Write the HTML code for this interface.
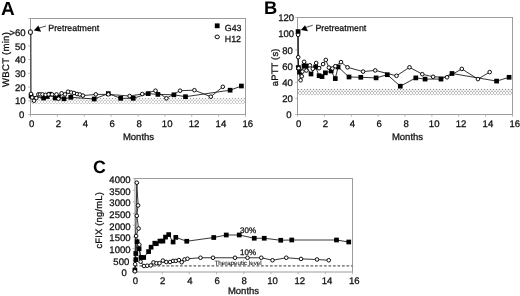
<!DOCTYPE html>
<html><head><meta charset="utf-8"><title>Figure</title>
<style>
html,body{margin:0;padding:0;background:#fff;}
body{width:520px;height:296px;overflow:hidden;}
svg{display:block;}
text{font-family:'Liberation Sans', sans-serif;fill:#111;text-rendering:geometricPrecision;stroke:#111;stroke-width:0.28px;}
.t{font-size:9.55px;}
.l{font-size:9.5px;}
.a{font-size:8.8px;}
.g{font-size:8.85px;}
.s{font-size:6.2px;stroke-width:0.08px;}
.q{font-size:8px;}
.p{font-size:18.3px;font-weight:bold;fill:#000;text-anchor:middle;stroke:none;}
</style></head><body>
<svg width="520" height="296" viewBox="0 0 520 296">
<defs>
<pattern id="hatch" width="3" height="7" patternUnits="userSpaceOnUse">
<rect width="3" height="7" fill="#fff"/>
<circle cx="1.5" cy="0.5" r="0.66" fill="#888888"/>
<circle cx="0" cy="2.25" r="0.66" fill="#888888"/><circle cx="3" cy="2.25" r="0.66" fill="#888888"/>
<circle cx="1.5" cy="3.9" r="0.66" fill="#888888"/>
<circle cx="0" cy="5.6" r="0.66" fill="#888888"/><circle cx="3" cy="5.6" r="0.66" fill="#888888"/>
</pattern>
<pattern id="hatchA" width="3" height="7" patternUnits="userSpaceOnUse">
<rect width="3" height="7" fill="#fff"/>
<circle cx="1.5" cy="0.5" r="0.64" fill="#9c9c9c"/>
<circle cx="0" cy="2.25" r="0.64" fill="#9c9c9c"/><circle cx="3" cy="2.25" r="0.64" fill="#9c9c9c"/>
<circle cx="1.5" cy="3.9" r="0.64" fill="#9c9c9c"/>
<circle cx="0" cy="5.6" r="0.64" fill="#9c9c9c"/><circle cx="3" cy="5.6" r="0.64" fill="#9c9c9c"/>
</pattern>
<filter id="soft" x="0" y="0" width="520" height="296" filterUnits="userSpaceOnUse"><feGaussianBlur stdDeviation="0.35"/></filter>
</defs>
<rect width="520" height="296" fill="#fff"/>
<g transform="translate(30,98)"><rect x="0" y="0" width="215.0" height="6.400000000000006" fill="url(#hatchA)"/></g>
<g transform="translate(297,89)"><rect x="0" y="0" width="215.0" height="6.599999999999994" fill="url(#hatch)"/></g>
<g filter="url(#soft)">
<rect x="30.5" y="18.5" width="215.0" height="96.0" fill="none" stroke="#9c9c9c" stroke-width="1"/>
<line x1="28.2" x2="30.5" y1="114.50" y2="114.50" stroke="#a6a6a6" stroke-width="0.8"/>
<text x="24.20" y="118.10" text-anchor="end" class="t">0</text>
<line x1="28.2" x2="30.5" y1="100.79" y2="100.79" stroke="#a6a6a6" stroke-width="0.8"/>
<text x="25.50" y="104.39" text-anchor="end" class="t">10</text>
<line x1="28.2" x2="30.5" y1="87.07" y2="87.07" stroke="#a6a6a6" stroke-width="0.8"/>
<text x="25.50" y="90.67" text-anchor="end" class="t">20</text>
<line x1="28.2" x2="30.5" y1="73.36" y2="73.36" stroke="#a6a6a6" stroke-width="0.8"/>
<text x="25.50" y="76.96" text-anchor="end" class="t">30</text>
<line x1="28.2" x2="30.5" y1="59.64" y2="59.64" stroke="#a6a6a6" stroke-width="0.8"/>
<text x="25.50" y="63.24" text-anchor="end" class="t">40</text>
<line x1="28.2" x2="30.5" y1="45.93" y2="45.93" stroke="#a6a6a6" stroke-width="0.8"/>
<text x="25.50" y="49.53" text-anchor="end" class="t">50</text>
<line x1="28.2" x2="30.5" y1="32.21" y2="32.21" stroke="#a6a6a6" stroke-width="0.8"/>
<text x="25.63" y="35.81" text-anchor="end" class="t">&gt;60</text>
<line x1="28.2" x2="30.5" y1="18.50" y2="18.50" stroke="#a6a6a6" stroke-width="0.8"/>
<line x1="30.50" x2="30.50" y1="114.5" y2="116.8" stroke="#a6a6a6" stroke-width="0.8"/>
<text x="31.60" y="126.90" text-anchor="middle" class="t">0</text>
<line x1="57.38" x2="57.38" y1="114.5" y2="116.8" stroke="#a6a6a6" stroke-width="0.8"/>
<text x="58.48" y="126.90" text-anchor="middle" class="t">2</text>
<line x1="84.25" x2="84.25" y1="114.5" y2="116.8" stroke="#a6a6a6" stroke-width="0.8"/>
<text x="85.35" y="126.90" text-anchor="middle" class="t">4</text>
<line x1="111.12" x2="111.12" y1="114.5" y2="116.8" stroke="#a6a6a6" stroke-width="0.8"/>
<text x="112.22" y="126.90" text-anchor="middle" class="t">6</text>
<line x1="138.00" x2="138.00" y1="114.5" y2="116.8" stroke="#a6a6a6" stroke-width="0.8"/>
<text x="139.10" y="126.90" text-anchor="middle" class="t">8</text>
<line x1="164.88" x2="164.88" y1="114.5" y2="116.8" stroke="#a6a6a6" stroke-width="0.8"/>
<text x="167.17" y="126.90" text-anchor="middle" class="t">10</text>
<line x1="191.75" x2="191.75" y1="114.5" y2="116.8" stroke="#a6a6a6" stroke-width="0.8"/>
<text x="194.05" y="126.90" text-anchor="middle" class="t">12</text>
<line x1="218.62" x2="218.62" y1="114.5" y2="116.8" stroke="#a6a6a6" stroke-width="0.8"/>
<text x="220.92" y="126.90" text-anchor="middle" class="t">14</text>
<line x1="245.50" x2="245.50" y1="114.5" y2="116.8" stroke="#a6a6a6" stroke-width="0.8"/>
<text x="247.80" y="126.90" text-anchor="middle" class="t">16</text>
<text x="7.8" y="14.8" class="p" style="font-size:19px">A</text>
<text transform="translate(8.6,59.4) rotate(-90)" text-anchor="middle" class="l" style="font-size:9.6px;letter-spacing:0.25px">WBCT (min)</text>
<text x="138.5" y="140" text-anchor="middle" class="l">Months</text>
<text x="48.3" y="31.2" class="a">Pretreatment</text>
<path d="M46 26 L39 28.1" stroke="#222" stroke-width="0.8" fill="none"/>
<path d="M33.9 30.6 L38.3 25.6 L41.1 31.7 Z" fill="#000"/>
<rect x="214.80" y="23.40" width="4.8" height="4.8" fill="#000"/>
<ellipse cx="217.2" cy="36.9" rx="2.15" ry="1.85" fill="#fff" stroke="#000" stroke-width="0.95"/>
<text x="224.8" y="30.9" class="g">G43</text>
<text x="224.8" y="41.5" class="g">H12</text>
<polyline fill="none" stroke="#111" stroke-width="0.85" stroke-linejoin="round" points="31.10,96.00 43.60,98.00 47.20,96.50 49.80,94.20 55.20,98.00 58.30,96.80 64.00,98.80 70.80,97.30 94.20,99.00 108.30,93.60 120.70,98.30 133.20,98.30 148.20,93.60 157.90,94.40 173.90,94.80 185.50,96.70 230.10,90.20 241.40,86.00"/>
<polyline fill="none" stroke="#111" stroke-width="0.85" stroke-linejoin="round" points="30.90,32.40 31.00,93.90 32.10,97.50 34.00,100.70 36.30,98.00 38.30,94.40 40.20,94.40 42.50,94.40 45.60,94.80 48.70,94.40 52.10,94.40 56.50,94.40 58.50,98.70 61.60,93.30 65.00,94.40 68.10,91.70 71.20,92.50 74.00,93.00 77.10,94.00 79.80,94.50 82.90,95.60 95.80,94.40 108.30,94.40 129.60,96.00 142.30,94.00 155.50,90.70 166.40,98.30 180.10,90.70 194.40,90.20 210.80,96.70 222.80,86.80"/>
<rect x="28.75" y="93.65" width="4.7" height="4.7" fill="#000"/>
<rect x="41.25" y="95.65" width="4.7" height="4.7" fill="#000"/>
<rect x="44.85" y="94.15" width="4.7" height="4.7" fill="#000"/>
<rect x="47.45" y="91.85" width="4.7" height="4.7" fill="#000"/>
<rect x="52.85" y="95.65" width="4.7" height="4.7" fill="#000"/>
<rect x="55.95" y="94.45" width="4.7" height="4.7" fill="#000"/>
<rect x="61.65" y="96.45" width="4.7" height="4.7" fill="#000"/>
<rect x="68.45" y="94.95" width="4.7" height="4.7" fill="#000"/>
<rect x="91.85" y="96.65" width="4.7" height="4.7" fill="#000"/>
<rect x="105.95" y="91.25" width="4.7" height="4.7" fill="#000"/>
<rect x="118.35" y="95.95" width="4.7" height="4.7" fill="#000"/>
<rect x="130.85" y="95.95" width="4.7" height="4.7" fill="#000"/>
<rect x="145.85" y="91.25" width="4.7" height="4.7" fill="#000"/>
<rect x="155.55" y="92.05" width="4.7" height="4.7" fill="#000"/>
<rect x="171.55" y="92.45" width="4.7" height="4.7" fill="#000"/>
<rect x="183.15" y="94.35" width="4.7" height="4.7" fill="#000"/>
<rect x="227.75" y="87.85" width="4.7" height="4.7" fill="#000"/>
<rect x="239.05" y="83.65" width="4.7" height="4.7" fill="#000"/>
<circle cx="31.00" cy="93.90" r="1.8" fill="#fff" stroke="#000" stroke-width="0.95"/>
<circle cx="32.10" cy="97.50" r="1.8" fill="#fff" stroke="#000" stroke-width="0.95"/>
<circle cx="34.00" cy="100.70" r="1.8" fill="#fff" stroke="#000" stroke-width="0.95"/>
<circle cx="36.30" cy="98.00" r="1.8" fill="#fff" stroke="#000" stroke-width="0.95"/>
<circle cx="38.30" cy="94.40" r="1.8" fill="#fff" stroke="#000" stroke-width="0.95"/>
<circle cx="40.20" cy="94.40" r="1.8" fill="#fff" stroke="#000" stroke-width="0.95"/>
<circle cx="42.50" cy="94.40" r="1.8" fill="#fff" stroke="#000" stroke-width="0.95"/>
<circle cx="45.60" cy="94.80" r="1.8" fill="#fff" stroke="#000" stroke-width="0.95"/>
<circle cx="48.70" cy="94.40" r="1.8" fill="#fff" stroke="#000" stroke-width="0.95"/>
<circle cx="52.10" cy="94.40" r="1.8" fill="#fff" stroke="#000" stroke-width="0.95"/>
<circle cx="56.50" cy="94.40" r="1.8" fill="#fff" stroke="#000" stroke-width="0.95"/>
<circle cx="58.50" cy="98.70" r="1.8" fill="#fff" stroke="#000" stroke-width="0.95"/>
<circle cx="61.60" cy="93.30" r="1.8" fill="#fff" stroke="#000" stroke-width="0.95"/>
<circle cx="65.00" cy="94.40" r="1.8" fill="#fff" stroke="#000" stroke-width="0.95"/>
<circle cx="68.10" cy="91.70" r="1.8" fill="#fff" stroke="#000" stroke-width="0.95"/>
<circle cx="71.20" cy="92.50" r="1.8" fill="#fff" stroke="#000" stroke-width="0.95"/>
<circle cx="74.00" cy="93.00" r="1.8" fill="#fff" stroke="#000" stroke-width="0.95"/>
<circle cx="77.10" cy="94.00" r="1.8" fill="#fff" stroke="#000" stroke-width="0.95"/>
<circle cx="79.80" cy="94.50" r="1.8" fill="#fff" stroke="#000" stroke-width="0.95"/>
<circle cx="82.90" cy="95.60" r="1.8" fill="#fff" stroke="#000" stroke-width="0.95"/>
<circle cx="95.80" cy="94.40" r="1.8" fill="#fff" stroke="#000" stroke-width="0.95"/>
<circle cx="108.30" cy="94.40" r="1.8" fill="#fff" stroke="#000" stroke-width="0.95"/>
<circle cx="129.60" cy="96.00" r="1.8" fill="#fff" stroke="#000" stroke-width="0.95"/>
<circle cx="142.30" cy="94.00" r="1.8" fill="#fff" stroke="#000" stroke-width="0.95"/>
<circle cx="155.50" cy="90.70" r="1.8" fill="#fff" stroke="#000" stroke-width="0.95"/>
<circle cx="166.40" cy="98.30" r="1.8" fill="#fff" stroke="#000" stroke-width="0.95"/>
<circle cx="180.10" cy="90.70" r="1.8" fill="#fff" stroke="#000" stroke-width="0.95"/>
<circle cx="194.40" cy="90.20" r="1.8" fill="#fff" stroke="#000" stroke-width="0.95"/>
<circle cx="210.80" cy="96.70" r="1.8" fill="#fff" stroke="#000" stroke-width="0.95"/>
<circle cx="222.80" cy="86.80" r="1.8" fill="#fff" stroke="#000" stroke-width="0.95"/>
<rect x="28.6" y="30.0" width="3.7" height="4.3" rx="1.1" fill="#fff" stroke="#000" stroke-width="1"/>
<rect x="297.5" y="17.5" width="215.0" height="97.0" fill="none" stroke="#9c9c9c" stroke-width="1"/>
<line x1="295.2" x2="297.5" y1="114.50" y2="114.50" stroke="#a6a6a6" stroke-width="0.8"/>
<text x="291.50" y="118.30" text-anchor="end" class="t">0</text>
<line x1="295.2" x2="297.5" y1="98.33" y2="98.33" stroke="#a6a6a6" stroke-width="0.8"/>
<text x="292.80" y="102.13" text-anchor="end" class="t">20</text>
<line x1="295.2" x2="297.5" y1="82.17" y2="82.17" stroke="#a6a6a6" stroke-width="0.8"/>
<text x="292.80" y="85.97" text-anchor="end" class="t">40</text>
<line x1="295.2" x2="297.5" y1="66.00" y2="66.00" stroke="#a6a6a6" stroke-width="0.8"/>
<text x="292.80" y="69.80" text-anchor="end" class="t">60</text>
<line x1="295.2" x2="297.5" y1="49.83" y2="49.83" stroke="#a6a6a6" stroke-width="0.8"/>
<text x="292.80" y="53.63" text-anchor="end" class="t">80</text>
<line x1="295.2" x2="297.5" y1="33.67" y2="33.67" stroke="#a6a6a6" stroke-width="0.8"/>
<text x="294.10" y="37.47" text-anchor="end" class="t">100</text>
<line x1="295.2" x2="297.5" y1="17.50" y2="17.50" stroke="#a6a6a6" stroke-width="0.8"/>
<text x="294.10" y="21.30" text-anchor="end" class="t">120</text>
<line x1="297.50" x2="297.50" y1="114.5" y2="116.8" stroke="#a6a6a6" stroke-width="0.8"/>
<text x="298.60" y="126.90" text-anchor="middle" class="t">0</text>
<line x1="324.38" x2="324.38" y1="114.5" y2="116.8" stroke="#a6a6a6" stroke-width="0.8"/>
<text x="325.48" y="126.90" text-anchor="middle" class="t">2</text>
<line x1="351.25" x2="351.25" y1="114.5" y2="116.8" stroke="#a6a6a6" stroke-width="0.8"/>
<text x="352.35" y="126.90" text-anchor="middle" class="t">4</text>
<line x1="378.12" x2="378.12" y1="114.5" y2="116.8" stroke="#a6a6a6" stroke-width="0.8"/>
<text x="379.23" y="126.90" text-anchor="middle" class="t">6</text>
<line x1="405.00" x2="405.00" y1="114.5" y2="116.8" stroke="#a6a6a6" stroke-width="0.8"/>
<text x="406.10" y="126.90" text-anchor="middle" class="t">8</text>
<line x1="431.88" x2="431.88" y1="114.5" y2="116.8" stroke="#a6a6a6" stroke-width="0.8"/>
<text x="434.18" y="126.90" text-anchor="middle" class="t">10</text>
<line x1="458.75" x2="458.75" y1="114.5" y2="116.8" stroke="#a6a6a6" stroke-width="0.8"/>
<text x="461.05" y="126.90" text-anchor="middle" class="t">12</text>
<line x1="485.62" x2="485.62" y1="114.5" y2="116.8" stroke="#a6a6a6" stroke-width="0.8"/>
<text x="487.93" y="126.90" text-anchor="middle" class="t">14</text>
<line x1="512.50" x2="512.50" y1="114.5" y2="116.8" stroke="#a6a6a6" stroke-width="0.8"/>
<text x="514.80" y="126.90" text-anchor="middle" class="t">16</text>
<text x="270.6" y="14.4" class="p">B</text>
<text transform="translate(277.5,67.3) rotate(-90)" text-anchor="middle" class="l" style="font-size:9.4px;letter-spacing:0.2px">aPTT (s)</text>
<text x="407.5" y="140" text-anchor="middle" class="l">Months</text>
<text x="315.4" y="30.6" class="a">Pretreatment</text>
<path d="M312.8 25.2 L306 27.4" stroke="#222" stroke-width="0.8" fill="none"/>
<path d="M300.9 30.1 L305 25.2 L308 31.2 Z" fill="#000"/>
<polyline fill="none" stroke="#111" stroke-width="0.85" stroke-linejoin="round" points="298.10,31.60 298.40,67.60 299.50,72.20 304.00,66.00 305.80,65.90 311.00,74.00 315.60,67.00 319.10,75.70 322.00,76.60 325.40,72.80 331.20,71.00 335.30,78.60 338.10,67.00 349.00,77.00 360.80,77.30 376.10,77.90 387.30,74.70 400.30,86.20 415.80,77.90 425.10,79.10 441.00,79.10 452.00,73.50 496.60,81.10 509.10,77.30"/>
<polyline fill="none" stroke="#111" stroke-width="0.85" stroke-linejoin="round" points="298.10,34.90 298.20,57.20 298.60,68.20 300.60,80.30 301.80,76.30 302.40,71.60 304.10,61.80 306.40,70.50 309.90,65.30 312.80,68.80 316.20,63.00 319.10,68.20 323.10,64.10 325.80,59.90 328.90,67.60 332.40,68.50 335.30,66.20 341.00,62.10 347.50,67.30 363.10,71.60 375.20,70.40 396.50,75.80 409.50,67.30 422.30,74.20 433.10,76.80 447.00,77.30 461.80,68.90 477.90,79.10 489.70,72.10"/>
<rect x="295.75" y="29.25" width="4.7" height="4.7" fill="#000"/>
<rect x="296.05" y="65.25" width="4.7" height="4.7" fill="#000"/>
<rect x="297.15" y="69.85" width="4.7" height="4.7" fill="#000"/>
<rect x="301.65" y="63.65" width="4.7" height="4.7" fill="#000"/>
<rect x="303.45" y="63.55" width="4.7" height="4.7" fill="#000"/>
<rect x="308.65" y="71.65" width="4.7" height="4.7" fill="#000"/>
<rect x="313.25" y="64.65" width="4.7" height="4.7" fill="#000"/>
<rect x="316.75" y="73.35" width="4.7" height="4.7" fill="#000"/>
<rect x="319.65" y="74.25" width="4.7" height="4.7" fill="#000"/>
<rect x="323.05" y="70.45" width="4.7" height="4.7" fill="#000"/>
<rect x="328.85" y="68.65" width="4.7" height="4.7" fill="#000"/>
<rect x="332.95" y="76.25" width="4.7" height="4.7" fill="#000"/>
<rect x="335.75" y="64.65" width="4.7" height="4.7" fill="#000"/>
<rect x="346.65" y="74.65" width="4.7" height="4.7" fill="#000"/>
<rect x="358.45" y="74.95" width="4.7" height="4.7" fill="#000"/>
<rect x="373.75" y="75.55" width="4.7" height="4.7" fill="#000"/>
<rect x="384.95" y="72.35" width="4.7" height="4.7" fill="#000"/>
<rect x="397.95" y="83.85" width="4.7" height="4.7" fill="#000"/>
<rect x="413.45" y="75.55" width="4.7" height="4.7" fill="#000"/>
<rect x="422.75" y="76.75" width="4.7" height="4.7" fill="#000"/>
<rect x="438.65" y="76.75" width="4.7" height="4.7" fill="#000"/>
<rect x="449.65" y="71.15" width="4.7" height="4.7" fill="#000"/>
<rect x="494.25" y="78.75" width="4.7" height="4.7" fill="#000"/>
<rect x="506.75" y="74.95" width="4.7" height="4.7" fill="#000"/>
<circle cx="298.10" cy="34.90" r="1.8" fill="#fff" stroke="#000" stroke-width="0.95"/>
<circle cx="298.20" cy="57.20" r="1.8" fill="#fff" stroke="#000" stroke-width="0.95"/>
<circle cx="298.60" cy="68.20" r="1.8" fill="#fff" stroke="#000" stroke-width="0.95"/>
<circle cx="300.60" cy="80.30" r="1.8" fill="#fff" stroke="#000" stroke-width="0.95"/>
<circle cx="301.80" cy="76.30" r="1.8" fill="#fff" stroke="#000" stroke-width="0.95"/>
<circle cx="302.40" cy="71.60" r="1.8" fill="#fff" stroke="#000" stroke-width="0.95"/>
<circle cx="304.10" cy="61.80" r="1.8" fill="#fff" stroke="#000" stroke-width="0.95"/>
<circle cx="306.40" cy="70.50" r="1.8" fill="#fff" stroke="#000" stroke-width="0.95"/>
<circle cx="309.90" cy="65.30" r="1.8" fill="#fff" stroke="#000" stroke-width="0.95"/>
<circle cx="312.80" cy="68.80" r="1.8" fill="#fff" stroke="#000" stroke-width="0.95"/>
<circle cx="316.20" cy="63.00" r="1.8" fill="#fff" stroke="#000" stroke-width="0.95"/>
<circle cx="319.10" cy="68.20" r="1.8" fill="#fff" stroke="#000" stroke-width="0.95"/>
<circle cx="323.10" cy="64.10" r="1.8" fill="#fff" stroke="#000" stroke-width="0.95"/>
<circle cx="325.80" cy="59.90" r="1.8" fill="#fff" stroke="#000" stroke-width="0.95"/>
<circle cx="328.90" cy="67.60" r="1.8" fill="#fff" stroke="#000" stroke-width="0.95"/>
<circle cx="332.40" cy="68.50" r="1.8" fill="#fff" stroke="#000" stroke-width="0.95"/>
<circle cx="335.30" cy="66.20" r="1.8" fill="#fff" stroke="#000" stroke-width="0.95"/>
<circle cx="341.00" cy="62.10" r="1.8" fill="#fff" stroke="#000" stroke-width="0.95"/>
<circle cx="347.50" cy="67.30" r="1.8" fill="#fff" stroke="#000" stroke-width="0.95"/>
<circle cx="363.10" cy="71.60" r="1.8" fill="#fff" stroke="#000" stroke-width="0.95"/>
<circle cx="375.20" cy="70.40" r="1.8" fill="#fff" stroke="#000" stroke-width="0.95"/>
<circle cx="396.50" cy="75.80" r="1.8" fill="#fff" stroke="#000" stroke-width="0.95"/>
<circle cx="409.50" cy="67.30" r="1.8" fill="#fff" stroke="#000" stroke-width="0.95"/>
<circle cx="422.30" cy="74.20" r="1.8" fill="#fff" stroke="#000" stroke-width="0.95"/>
<circle cx="433.10" cy="76.80" r="1.8" fill="#fff" stroke="#000" stroke-width="0.95"/>
<circle cx="447.00" cy="77.30" r="1.8" fill="#fff" stroke="#000" stroke-width="0.95"/>
<circle cx="461.80" cy="68.90" r="1.8" fill="#fff" stroke="#000" stroke-width="0.95"/>
<circle cx="477.90" cy="79.10" r="1.8" fill="#fff" stroke="#000" stroke-width="0.95"/>
<circle cx="489.70" cy="72.10" r="1.8" fill="#fff" stroke="#000" stroke-width="0.95"/>
<rect x="135" y="178.5" width="217.5" height="93.5" fill="none" stroke="#9c9c9c" stroke-width="1"/>
<line x1="132.7" x2="135" y1="272.00" y2="272.00" stroke="#a6a6a6" stroke-width="0.8"/>
<text x="126.70" y="276.40" text-anchor="end" class="t">0</text>
<line x1="132.7" x2="135" y1="260.31" y2="260.31" stroke="#a6a6a6" stroke-width="0.8"/>
<text x="129.30" y="264.71" text-anchor="end" class="t">500</text>
<line x1="132.7" x2="135" y1="248.62" y2="248.62" stroke="#a6a6a6" stroke-width="0.8"/>
<text x="130.60" y="253.03" text-anchor="end" class="t">1000</text>
<line x1="132.7" x2="135" y1="236.94" y2="236.94" stroke="#a6a6a6" stroke-width="0.8"/>
<text x="130.60" y="241.34" text-anchor="end" class="t">1500</text>
<line x1="132.7" x2="135" y1="225.25" y2="225.25" stroke="#a6a6a6" stroke-width="0.8"/>
<text x="130.60" y="229.65" text-anchor="end" class="t">2000</text>
<line x1="132.7" x2="135" y1="213.56" y2="213.56" stroke="#a6a6a6" stroke-width="0.8"/>
<text x="130.60" y="217.96" text-anchor="end" class="t">2500</text>
<line x1="132.7" x2="135" y1="201.88" y2="201.88" stroke="#a6a6a6" stroke-width="0.8"/>
<text x="130.60" y="206.28" text-anchor="end" class="t">3000</text>
<line x1="132.7" x2="135" y1="190.19" y2="190.19" stroke="#a6a6a6" stroke-width="0.8"/>
<text x="130.60" y="194.59" text-anchor="end" class="t">3500</text>
<line x1="132.7" x2="135" y1="178.50" y2="178.50" stroke="#a6a6a6" stroke-width="0.8"/>
<text x="130.60" y="182.90" text-anchor="end" class="t">4000</text>
<line x1="135.00" x2="135.00" y1="272" y2="274.3" stroke="#a6a6a6" stroke-width="0.8"/>
<text x="135.50" y="284.40" text-anchor="middle" class="t">0</text>
<line x1="162.19" x2="162.19" y1="272" y2="274.3" stroke="#a6a6a6" stroke-width="0.8"/>
<text x="162.69" y="284.40" text-anchor="middle" class="t">2</text>
<line x1="189.38" x2="189.38" y1="272" y2="274.3" stroke="#a6a6a6" stroke-width="0.8"/>
<text x="189.88" y="284.40" text-anchor="middle" class="t">4</text>
<line x1="216.56" x2="216.56" y1="272" y2="274.3" stroke="#a6a6a6" stroke-width="0.8"/>
<text x="217.06" y="284.40" text-anchor="middle" class="t">6</text>
<line x1="243.75" x2="243.75" y1="272" y2="274.3" stroke="#a6a6a6" stroke-width="0.8"/>
<text x="244.25" y="284.40" text-anchor="middle" class="t">8</text>
<line x1="270.94" x2="270.94" y1="272" y2="274.3" stroke="#a6a6a6" stroke-width="0.8"/>
<text x="272.64" y="284.40" text-anchor="middle" class="t">10</text>
<line x1="298.12" x2="298.12" y1="272" y2="274.3" stroke="#a6a6a6" stroke-width="0.8"/>
<text x="299.82" y="284.40" text-anchor="middle" class="t">12</text>
<line x1="325.31" x2="325.31" y1="272" y2="274.3" stroke="#a6a6a6" stroke-width="0.8"/>
<text x="327.01" y="284.40" text-anchor="middle" class="t">14</text>
<line x1="352.50" x2="352.50" y1="272" y2="274.3" stroke="#a6a6a6" stroke-width="0.8"/>
<text x="354.20" y="284.40" text-anchor="middle" class="t">16</text>
<text x="99.3" y="173.3" class="p" style="font-size:17.8px">C</text>
<text transform="translate(102.3,220.3) rotate(-90)" text-anchor="middle" class="l" style="font-size:9.4px;letter-spacing:0.2px">cFIX (ng/mL)</text>
<text x="243.5" y="294" text-anchor="middle" class="l">Months</text>
<line x1="135" x2="352.5" y1="265.8" y2="265.8" stroke="#606060" stroke-width="1.15" stroke-dasharray="2.7 1.8"/>
<text x="214.5" y="265" class="s">Therapeutic level</text>
<text x="240" y="232.5" class="q">30%</text>
<text x="240" y="254.5" class="q">10%</text>
<polyline fill="none" stroke="#111" stroke-width="0.85" stroke-linejoin="round" points="134.90,270.00 135.80,259.60 135.80,253.50 137.10,241.70 139.10,248.70 141.00,257.50 143.70,257.50 148.60,251.60 151.10,247.20 154.80,243.20 156.30,243.70 159.90,241.10 162.90,241.10 165.50,237.10 168.70,234.60 173.10,242.00 175.80,237.40 186.75,241.25 213.75,237.50 226.25,235.00 239.25,235.00 254.25,238.25 264.25,238.25 280.75,240.25 291.75,240.00 336.50,240.00 348.75,242.00"/>
<polyline fill="none" stroke="#111" stroke-width="0.85" stroke-linejoin="round" points="134.90,271.30 135.10,264.20 136.80,182.70 138.10,205.40 136.80,215.80 138.60,228.50 136.10,236.00 139.30,244.70 140.60,261.70 144.00,266.00 147.20,265.70 150.80,265.40 153.50,262.40 156.50,263.20 159.50,263.20 162.90,260.60 166.30,262.00 170.00,262.00 173.10,260.90 175.80,260.90 178.90,260.10 181.70,262.20 184.50,259.50 187.50,258.75 200.50,257.75 213.00,257.75 235.00,257.75 247.50,257.75 261.25,257.75 272.50,260.25 286.25,257.75 301.00,258.90 317.00,259.50 328.75,260.25"/>
<rect x="132.55" y="267.65" width="4.7" height="4.7" fill="#000"/>
<rect x="133.45" y="257.25" width="4.7" height="4.7" fill="#000"/>
<rect x="133.45" y="251.15" width="4.7" height="4.7" fill="#000"/>
<rect x="134.75" y="239.35" width="4.7" height="4.7" fill="#000"/>
<rect x="136.75" y="246.35" width="4.7" height="4.7" fill="#000"/>
<rect x="138.65" y="255.15" width="4.7" height="4.7" fill="#000"/>
<rect x="141.35" y="255.15" width="4.7" height="4.7" fill="#000"/>
<rect x="146.25" y="249.25" width="4.7" height="4.7" fill="#000"/>
<rect x="148.75" y="244.85" width="4.7" height="4.7" fill="#000"/>
<rect x="152.45" y="240.85" width="4.7" height="4.7" fill="#000"/>
<rect x="153.95" y="241.35" width="4.7" height="4.7" fill="#000"/>
<rect x="157.55" y="238.75" width="4.7" height="4.7" fill="#000"/>
<rect x="160.55" y="238.75" width="4.7" height="4.7" fill="#000"/>
<rect x="163.15" y="234.75" width="4.7" height="4.7" fill="#000"/>
<rect x="166.35" y="232.25" width="4.7" height="4.7" fill="#000"/>
<rect x="170.75" y="239.65" width="4.7" height="4.7" fill="#000"/>
<rect x="173.45" y="235.05" width="4.7" height="4.7" fill="#000"/>
<rect x="184.40" y="238.90" width="4.7" height="4.7" fill="#000"/>
<rect x="211.40" y="235.15" width="4.7" height="4.7" fill="#000"/>
<rect x="223.90" y="232.65" width="4.7" height="4.7" fill="#000"/>
<rect x="236.90" y="232.65" width="4.7" height="4.7" fill="#000"/>
<rect x="251.90" y="235.90" width="4.7" height="4.7" fill="#000"/>
<rect x="261.90" y="235.90" width="4.7" height="4.7" fill="#000"/>
<rect x="278.40" y="237.90" width="4.7" height="4.7" fill="#000"/>
<rect x="289.40" y="237.65" width="4.7" height="4.7" fill="#000"/>
<rect x="334.15" y="237.65" width="4.7" height="4.7" fill="#000"/>
<rect x="346.40" y="239.65" width="4.7" height="4.7" fill="#000"/>
<circle cx="134.90" cy="271.30" r="1.8" fill="#fff" stroke="#000" stroke-width="0.95"/>
<circle cx="135.10" cy="264.20" r="1.8" fill="#fff" stroke="#000" stroke-width="0.95"/>
<circle cx="136.80" cy="182.70" r="1.8" fill="#fff" stroke="#000" stroke-width="0.95"/>
<circle cx="138.10" cy="205.40" r="1.8" fill="#fff" stroke="#000" stroke-width="0.95"/>
<circle cx="136.80" cy="215.80" r="1.8" fill="#fff" stroke="#000" stroke-width="0.95"/>
<circle cx="138.60" cy="228.50" r="1.8" fill="#fff" stroke="#000" stroke-width="0.95"/>
<circle cx="136.10" cy="236.00" r="1.8" fill="#fff" stroke="#000" stroke-width="0.95"/>
<circle cx="139.30" cy="244.70" r="1.8" fill="#fff" stroke="#000" stroke-width="0.95"/>
<circle cx="140.60" cy="261.70" r="1.8" fill="#fff" stroke="#000" stroke-width="0.95"/>
<circle cx="144.00" cy="266.00" r="1.8" fill="#fff" stroke="#000" stroke-width="0.95"/>
<circle cx="147.20" cy="265.70" r="1.8" fill="#fff" stroke="#000" stroke-width="0.95"/>
<circle cx="150.80" cy="265.40" r="1.8" fill="#fff" stroke="#000" stroke-width="0.95"/>
<circle cx="153.50" cy="262.40" r="1.8" fill="#fff" stroke="#000" stroke-width="0.95"/>
<circle cx="156.50" cy="263.20" r="1.8" fill="#fff" stroke="#000" stroke-width="0.95"/>
<circle cx="159.50" cy="263.20" r="1.8" fill="#fff" stroke="#000" stroke-width="0.95"/>
<circle cx="162.90" cy="260.60" r="1.8" fill="#fff" stroke="#000" stroke-width="0.95"/>
<circle cx="166.30" cy="262.00" r="1.8" fill="#fff" stroke="#000" stroke-width="0.95"/>
<circle cx="170.00" cy="262.00" r="1.8" fill="#fff" stroke="#000" stroke-width="0.95"/>
<circle cx="173.10" cy="260.90" r="1.8" fill="#fff" stroke="#000" stroke-width="0.95"/>
<circle cx="175.80" cy="260.90" r="1.8" fill="#fff" stroke="#000" stroke-width="0.95"/>
<circle cx="178.90" cy="260.10" r="1.8" fill="#fff" stroke="#000" stroke-width="0.95"/>
<circle cx="181.70" cy="262.20" r="1.8" fill="#fff" stroke="#000" stroke-width="0.95"/>
<circle cx="184.50" cy="259.50" r="1.8" fill="#fff" stroke="#000" stroke-width="0.95"/>
<circle cx="187.50" cy="258.75" r="1.8" fill="#fff" stroke="#000" stroke-width="0.95"/>
<circle cx="200.50" cy="257.75" r="1.8" fill="#fff" stroke="#000" stroke-width="0.95"/>
<circle cx="213.00" cy="257.75" r="1.8" fill="#fff" stroke="#000" stroke-width="0.95"/>
<circle cx="235.00" cy="257.75" r="1.8" fill="#fff" stroke="#000" stroke-width="0.95"/>
<circle cx="247.50" cy="257.75" r="1.8" fill="#fff" stroke="#000" stroke-width="0.95"/>
<circle cx="261.25" cy="257.75" r="1.8" fill="#fff" stroke="#000" stroke-width="0.95"/>
<circle cx="272.50" cy="260.25" r="1.8" fill="#fff" stroke="#000" stroke-width="0.95"/>
<circle cx="286.25" cy="257.75" r="1.8" fill="#fff" stroke="#000" stroke-width="0.95"/>
<circle cx="301.00" cy="258.90" r="1.8" fill="#fff" stroke="#000" stroke-width="0.95"/>
<circle cx="317.00" cy="259.50" r="1.8" fill="#fff" stroke="#000" stroke-width="0.95"/>
<circle cx="328.75" cy="260.25" r="1.8" fill="#fff" stroke="#000" stroke-width="0.95"/>
</g>
</svg>
</body></html>
